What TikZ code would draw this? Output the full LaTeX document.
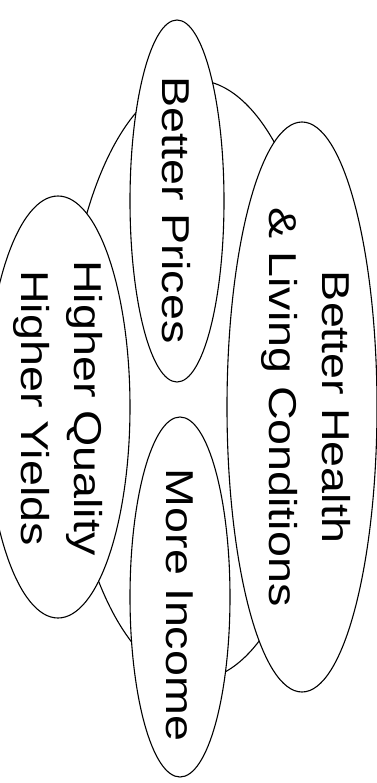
\documentclass[tikz,border=0pt]{standalone}
\usepackage{fontspec}
\newfontfamily\lab[FakeStretch=1.2]{Liberation Sans}
\usetikzlibrary{shapes.geometric}

\tikzset{
  bubble/.style={draw, ellipse, fill=white, line width=1.1bp, inner sep=0pt},
  caption/.style={rotate=-90, align=center, inner sep=0pt,
    font=\lab\fontsize{39}{53}\selectfont}
}

\begin{document}
\begin{tikzpicture}[x=1bp, y=-1bp]
    \useasboundingbox (0,0) rectangle (376,783);
    % Hub behind the four bubbles
    \node[bubble, minimum width=260bp, minimum height=600bp] (hub) at (195,380) {};
    % Bubbles
    \node[bubble, minimum width=94bp, minimum height=362bp] (prices) at (177,201) {};
    \node[bubble, minimum width=100bp, minimum height=360bp] (income) at (180,597) {};
    \node[bubble, minimum width=150bp, minimum height=570bp] (health) at (302,407) {};
    \node[bubble, minimum width=144bp, minimum height=422bp] (quality) at (58,407) {};
    % Labels
    \node[caption] (pricestext) at (176,210) {Better Prices};
    \node[caption] (incometext) at (180,605) {More Income};
    \node[caption] (healthtext) at (306,407) {Better Health\\\& Living Conditions};
    \node[caption] (qualitytext) at (58,408) {Higher Quality\\Higher Yields};
\end{tikzpicture}
\end{document}
